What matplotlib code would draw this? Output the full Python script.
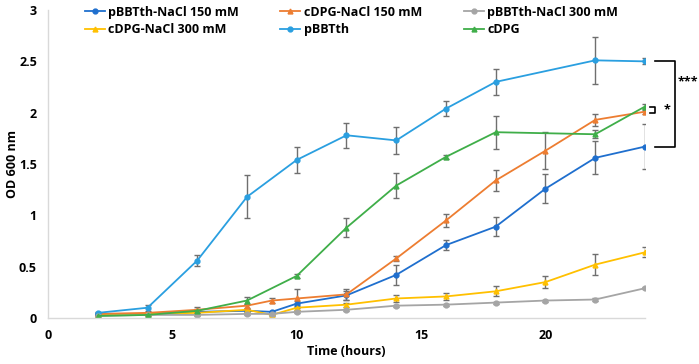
import numpy as np
import matplotlib.pyplot as plt
from matplotlib.lines import Line2D

# time points (hours)
t_full = [2, 4, 6, 8, 9, 10, 12, 14, 16, 18, 20, 22, 24]
t_ctrl = [2, 4, 6, 8, 10, 12, 14, 16, 18, 22, 24]

# OD600 readings
pbbtth_150 = [0.04, 0.04, 0.06, 0.07, 0.06, 0.14, 0.22, 0.42, 0.71, 0.89, 1.26, 1.56, 1.67]
pbbtth_150_err = [0.01, 0.01, 0.02, 0.02, 0.01, 0.03, 0.04, 0.10, 0.05, 0.09, 0.14, 0.16, 0.22]
cdpg_150 = [0.04, 0.05, 0.08, 0.12, 0.17, 0.19, 0.23, 0.58, 0.95, 1.34, 1.63, 1.93, 2.01]
cdpg_150_err = [0.01, 0.01, 0.03, 0.02, 0.02, 0.09, 0.05, 0.02, 0.06, 0.10, 0.18, 0.06, 0.02]
pbbtth_300 = [0.02, 0.03, 0.03, 0.04, 0.04, 0.06, 0.08, 0.12, 0.13, 0.15, 0.17, 0.18, 0.29]
pbbtth_300_err = [0.01, 0.01, 0.01, 0.01, 0.01, 0.01, 0.01, 0.01, 0.01, 0.01, 0.01, 0.01, 0.01]
cdpg_300 = [0.03, 0.04, 0.05, 0.08, 0.03, 0.10, 0.13, 0.19, 0.21, 0.26, 0.35, 0.52, 0.64]
cdpg_300_err = [0.01, 0.01, 0.01, 0.01, 0.01, 0.02, 0.02, 0.03, 0.03, 0.05, 0.06, 0.10, 0.05]
pbbtth = [0.05, 0.10, 0.56, 1.18, 1.54, 1.78, 1.73, 2.04, 2.30, 2.51, 2.50]
pbbtth_err = [0.01, 0.03, 0.05, 0.21, 0.13, 0.12, 0.13, 0.07, 0.13, 0.23, 0.03]
cdpg = [0.02, 0.03, 0.07, 0.17, 0.41, 0.88, 1.29, 1.57, 1.81, 1.79, 2.06]
cdpg_err = [0.01, 0.01, 0.02, 0.03, 0.02, 0.09, 0.12, 0.02, 0.16, 0.04, 0.02]

series = [
    ('pBBTth-NaCl 150 mM', t_full, pbbtth_150, pbbtth_150_err, '#1f6fce', 'o'),
    ('cDPG-NaCl 300 mM', t_full, cdpg_300, cdpg_300_err, '#ffc000', '^'),
    ('cDPG-NaCl 150 mM', t_full, cdpg_150, cdpg_150_err, '#ed7d31', '^'),
    ('pBBTth', t_ctrl, pbbtth, pbbtth_err, '#2a9fe0', 'o'),
    ('pBBTth-NaCl 300 mM', t_full, pbbtth_300, pbbtth_300_err, '#a5a5a5', 'o'),
    ('cDPG', t_ctrl, cdpg, cdpg_err, '#3fae49', '^'),
]

plt.rcParams['font.family'] = ['Open Sans', 'DejaVu Sans']

fig = plt.figure(figsize=(6.99, 3.64), dpi=100)
ax = fig.add_axes([0.0687, 0.1264, 0.854, 0.846])

handles = []
for name, t, y, err, color, mk in series:
    ax.errorbar(t, y, yerr=err, color=color, marker=mk, markersize=3.5,
                linewidth=1.3, ecolor='#6f6f6f', elinewidth=1, capsize=2,
                capthick=1)
    handles.append(Line2D([], [], color=color, marker=mk, markersize=3.5,
                          linewidth=1.3, label=name))

ax.set_xlim(0, 24)
ax.set_ylim(0, 3)
ax.set_xticks([0, 5, 10, 15, 20])
ax.set_yticks([0, 0.5, 1, 1.5, 2, 2.5, 3])
ax.set_yticklabels(['0', '0.5', '1', '1.5', '2', '2.5', '3'])
ax.tick_params(length=0, labelsize=9, pad=8)
for lab in ax.get_xticklabels() + ax.get_yticklabels():
    lab.set_fontweight('bold')
for s in ['top', 'right']:
    ax.spines[s].set_visible(False)
for s in ['left', 'bottom']:
    ax.spines[s].set_color('#d9d9d9')
    ax.spines[s].set_linewidth(1)

ax.set_xlabel('Time (hours)', fontsize=9, fontweight='bold')
ax.xaxis.set_label_coords(0.5, -0.088)
ax.set_ylabel('OD 600 nm', fontsize=9, fontweight='bold')
ax.yaxis.set_label_coords(-0.049, 0.5)

# significance brackets
ax.plot([24.4, 25.2, 25.2, 24.4], [2.50, 2.50, 1.67, 1.67], color='black',
        linewidth=1.2, clip_on=False)
ax.text(25.3, 2.30, '***', fontsize=9, fontweight='bold', va='center', clip_on=False)
ax.plot([24.2, 24.4, 24.4, 24.2], [2.06, 2.06, 2.00, 2.00], color='black',
        linewidth=1.2, clip_on=False)
ax.text(24.75, 2.03, '*', fontsize=9, fontweight='bold', va='center', clip_on=False)

leg = fig.legend(handles=handles, loc='upper left', bbox_to_anchor=(0.105, 1.015),
                 ncol=3, frameon=False, fontsize=9, handlelength=1.6,
                 handletextpad=0.3, columnspacing=3.3, labelspacing=0.35)
for txt in leg.get_texts():
    txt.set_fontweight('bold')

fig.savefig('out.png', dpi=100)
